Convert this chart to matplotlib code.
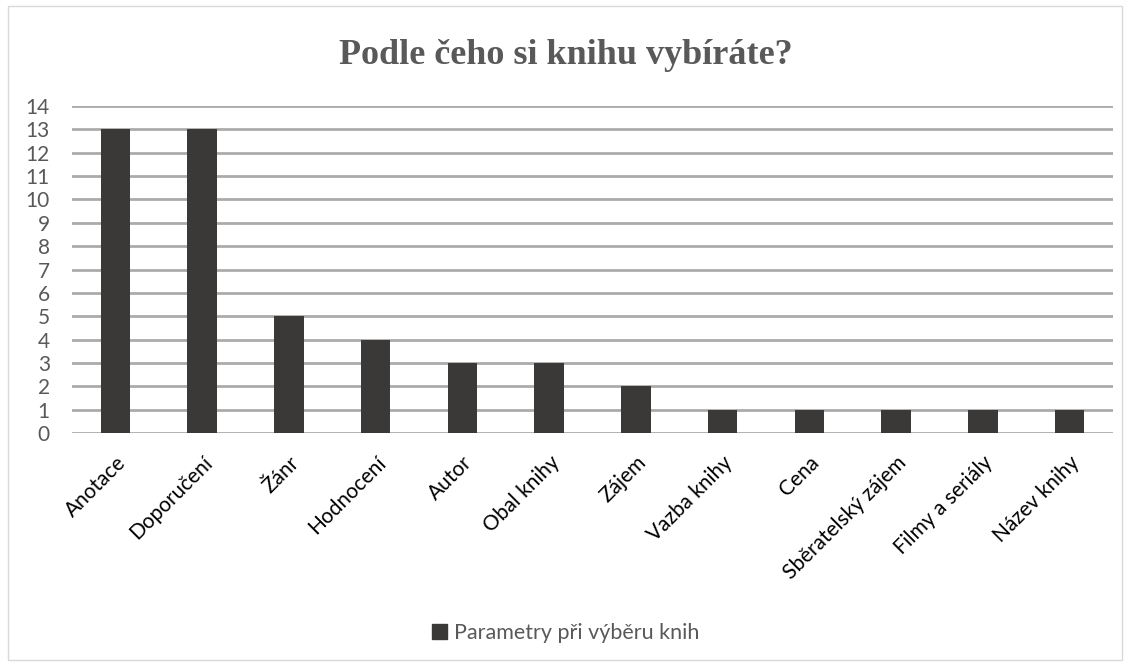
import matplotlib.pyplot as plt
import matplotlib.patches as mpatches
import numpy as np

categories = ["Anotace", "Doporučení", "Žánr", "Hodnocení", "Autor", "Obal knihy",
              "Zájem", "Vazba knihy", "Cena", "Sběratelský zájem", "Filmy a seriály",
              "Název knihy"]
values = [13, 13, 5, 4, 3, 3, 2, 1, 1, 1, 1, 1]
series_name = "Parametry při výběru knih"
title = "Podle čeho si knihu vybíráte?"

bar_color = "#3a3938"
grid_color = "#ababab"
text_gray = "#595959"

fig = plt.figure(figsize=(11.31, 6.66), dpi=100)
ax = fig.add_axes([0.0637, 0.3498, 0.9203, 0.491])

x = np.arange(len(categories))
ax.bar(x, values, width=0.34, color=bar_color, zorder=3, label=series_name)

ax.set_xlim(-0.5, len(categories) - 0.5)
ax.set_ylim(0, 14)
ax.set_yticks(range(0, 15))
ax.yaxis.grid(True, color=grid_color, linewidth=2, zorder=0)
for s in ax.spines.values():
    s.set_visible(False)
ax.tick_params(axis="both", length=0)
ax.tick_params(axis="y", labelsize=15, labelcolor=text_gray, pad=16)
for lab in ax.get_yticklabels():
    lab.set_family("Lato")

ax.set_xticks(x)
ax.set_xticklabels(categories, rotation=45, ha="right", rotation_mode="anchor",
                   fontsize=15, family="Lato", color="black")
ax.tick_params(axis="x", pad=14)

fig.text(0.5, 0.917, title, ha="center", va="center", fontsize=26,
         fontweight="bold", family="Liberation Serif", color=text_gray)

handle = mpatches.Patch(color=bar_color, label=series_name)
fig.legend(handles=[handle], loc="center", bbox_to_anchor=(0.5, 0.05),
           frameon=False, handlelength=0.7, handleheight=0.7, handletextpad=0.3,
           prop={"family": "Lato", "size": 15.5}, labelcolor=text_gray)

border = mpatches.Rectangle((8 / 1131, 6 / 666), 1114 / 1131, 654 / 666,
                            transform=fig.transFigure, fill=False,
                            edgecolor="#d9d9d9", linewidth=1)
fig.patches.append(border)

fig.savefig("out.png", dpi=100)
